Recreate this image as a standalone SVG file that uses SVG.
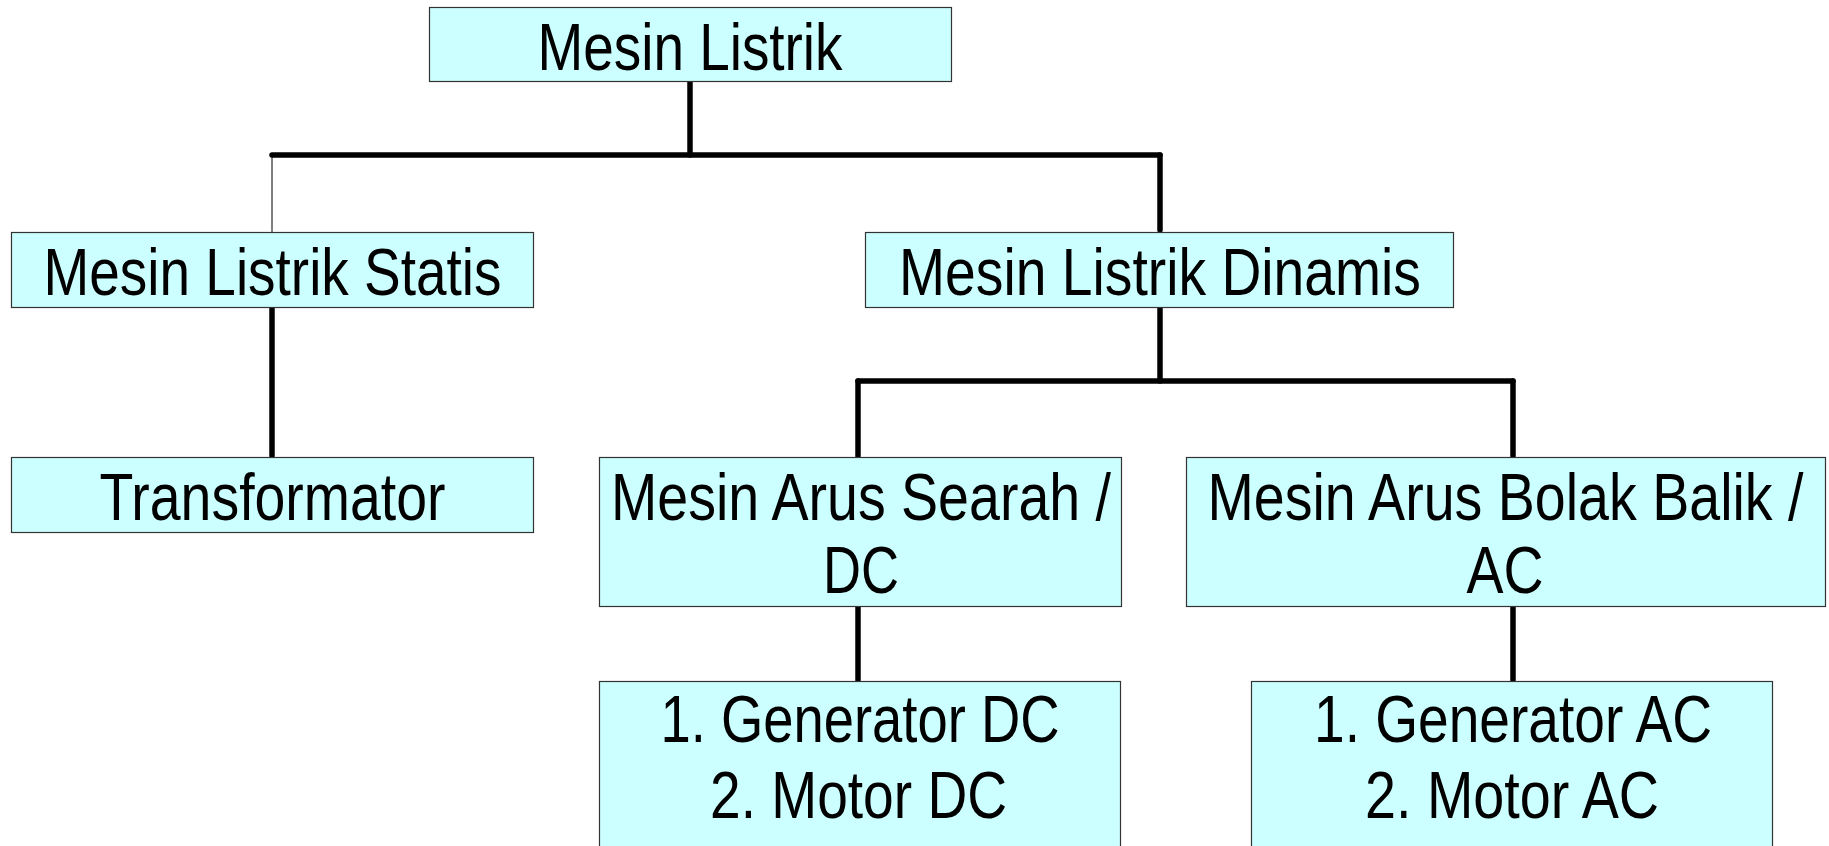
<svg xmlns="http://www.w3.org/2000/svg" width="1829" height="846" viewBox="0 0 1829 846">
<style>
.box{fill:#CCFFFF;stroke:#333333;stroke-width:1.2}
.t{font-family:"Liberation Sans",Arial,sans-serif;font-size:66px;fill:#000;text-anchor:middle}
.c{stroke:#000;stroke-width:5.5;stroke-linecap:round;fill:none}
.thin{stroke:#000;stroke-width:1;fill:none}
</style>
<rect width="1829" height="846" fill="#fff"/>
<g id="connectors">
<line class="c" x1="690" y1="82" x2="690" y2="155"/>
<line class="c" x1="272" y1="155" x2="1160" y2="155"/>
<line class="thin" x1="272" y1="155" x2="272" y2="232"/>
<line class="c" x1="1160" y1="155" x2="1160" y2="230"/>
<line class="c" x1="272" y1="308" x2="272" y2="456"/>
<line class="c" x1="1160" y1="308" x2="1160" y2="381"/>
<line class="c" x1="858" y1="381" x2="1513" y2="381"/>
<line class="c" x1="858" y1="381" x2="858" y2="456"/>
<line class="c" x1="1513" y1="381" x2="1513" y2="456"/>
<line class="c" x1="858" y1="607" x2="858" y2="680"/>
<line class="c" x1="1513" y1="607" x2="1513" y2="680"/>
</g>
<g id="n-mesin-listrik">
<rect class="box" x="429.5" y="7.5" width="522" height="74"/>
<text class="t" x="690" y="70" textLength="305" lengthAdjust="spacingAndGlyphs">Mesin Listrik</text>
</g>
<g id="n-statis">
<rect class="box" x="11.5" y="232.5" width="522" height="75"/>
<text class="t" x="272.5" y="295" textLength="458" lengthAdjust="spacingAndGlyphs">Mesin Listrik Statis</text>
</g>
<g id="n-dinamis">
<rect class="box" x="865.5" y="232.5" width="588" height="75"/>
<text class="t" x="1160" y="295" textLength="522" lengthAdjust="spacingAndGlyphs">Mesin Listrik Dinamis</text>
</g>
<g id="n-transformator">
<rect class="box" x="11.5" y="457.5" width="522" height="75"/>
<text class="t" x="272.5" y="520" textLength="346" lengthAdjust="spacingAndGlyphs">Transformator</text>
</g>
<g id="n-dc">
<rect class="box" x="599.5" y="457.5" width="522" height="149"/>
<text class="t" x="861" y="520" textLength="500" lengthAdjust="spacingAndGlyphs">Mesin Arus Searah /</text>
<text class="t" x="861" y="593" textLength="76" lengthAdjust="spacingAndGlyphs">DC</text>
</g>
<g id="n-ac">
<rect class="box" x="1186.5" y="457.5" width="639" height="149"/>
<text class="t" x="1505.5" y="520" textLength="596" lengthAdjust="spacingAndGlyphs">Mesin Arus Bolak Balik /</text>
<text class="t" x="1505" y="593" textLength="77" lengthAdjust="spacingAndGlyphs">AC</text>
</g>
<g id="n-dc-list">
<rect class="box" x="599.5" y="681.5" width="521" height="180"/>
<text class="t" x="860" y="742" textLength="399" lengthAdjust="spacingAndGlyphs">1. Generator DC</text>
<text class="t" x="858.5" y="818" textLength="297" lengthAdjust="spacingAndGlyphs">2. Motor DC</text>
</g>
<g id="n-ac-list">
<rect class="box" x="1251.5" y="681.5" width="521" height="180"/>
<text class="t" x="1513" y="742" textLength="398" lengthAdjust="spacingAndGlyphs">1. Generator AC</text>
<text class="t" x="1512" y="818" textLength="294" lengthAdjust="spacingAndGlyphs">2. Motor AC</text>
</g>
</svg>
